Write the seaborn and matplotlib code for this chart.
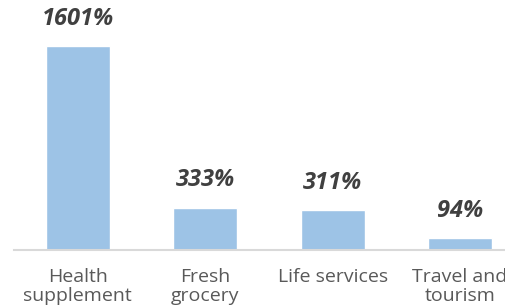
import matplotlib
matplotlib.use('Agg')
import matplotlib.pyplot as plt
import seaborn as sns
import pandas as pd

# Growth by category
categories = ['Health\nsupplement', 'Fresh\ngrocery', 'Life services', 'Travel and\ntourism']
growth = [1601, 333, 311, 94]
value_labels = ['1601%', '333%', '311%', '94%']

df = pd.DataFrame({'Category': categories, 'Growth': growth})

sns.set_theme(style='white')
plt.rcParams['font.family'] = ['Open Sans', 'DejaVu Sans']

fig = plt.figure(figsize=(5.06, 3.06), dpi=100)
ax = fig.add_axes([14 / 506, 56 / 306, 492 / 506, 250 / 306])

sns.barplot(data=df, x='Category', y='Growth', color='#9DC3E6', width=0.5,
            saturation=1, ax=ax)

for i, (v, lab) in enumerate(zip(growth, value_labels)):
    ax.annotate(lab, (i, v), xytext=(0, 11), textcoords='offset points',
                ha='center', va='bottom', fontsize=17, fontweight='bold',
                fontstyle='italic', color='#404040')

ax.set_xlim(-0.5, 3.36)
ax.set_ylim(0, 1962)
ax.set_xlabel('')
ax.set_ylabel('')
ax.set_yticks([])
ax.tick_params(axis='x', length=0, pad=13, labelsize=14, labelcolor='#595959')
for lab in ax.get_xticklabels():
    lab.set_linespacing(1.05)

sns.despine(ax=ax, left=True)
ax.spines['bottom'].set_color('#D9D9D9')
ax.spines['bottom'].set_linewidth(1.5)

fig.savefig('out.png', dpi=100)
